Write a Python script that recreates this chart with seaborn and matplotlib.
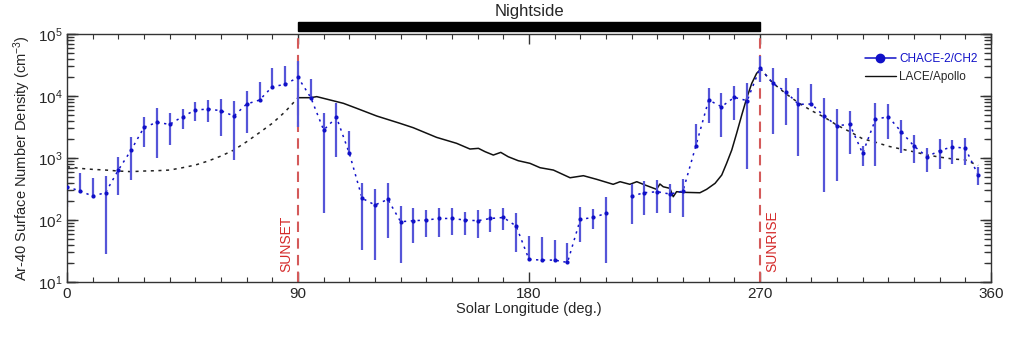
import numpy as np
import matplotlib
matplotlib.use("Agg")
import matplotlib.pyplot as plt
import seaborn as sns
from matplotlib.ticker import MultipleLocator, FixedLocator, NullFormatter, LogFormatterSciNotation
from matplotlib.patches import Rectangle

# ---------------- data ----------------
chace_lon = [0, 5, 10, 15, 20, 25, 30, 35, 40, 45, 50, 55, 60, 65, 70, 75, 80, 85, 90,
             95, 100, 105, 110, 115, 120, 125, 130, 135, 140, 145, 150, 155, 160, 165, 170,
             175, 180, 185, 190, 195, 200, 205, 210, 220, 225, 230, 235, 240, 245, 250,
             255, 260, 265, 270, 275, 280, 285, 290, 295, 300, 305, 310, 315, 320, 325,
             330, 335, 340, 345, 350, 355]
chace_val = [345, 294, 244, 276, 640, 1345, 3126, 3758, 3491, 4645, 5943, 6166, 5794, 4753,
             7430, 8610, 14130, 15420, 20000,
             9400, 2830, 4530, 1190, 224, 175, 215, 94, 97.5, 100, 106, 106, 100, 97.5, 106, 110,
             80, 23.2, 22.6, 22.6, 20.7, 102.6, 110, 128, 244, 276, 286, 262, 294, 1563, 8610,
             6730, 9506, 8414, 28300, 16000, 11750, 7345, 7430, 4753, 3327, 3491, 1189, 4207,
             4645, 2661, 1563, 1050, 1312, 1524, 1432, 532]
chace_hi = [710, 580, 482, 519, 1025, 2208, 4645, 6486, 5260, 6166, 7907, 8610, 9057, 8414,
            12050, 17020, 27990, 30480, 36730,
            18790, 5260, 7800, 2760, 391, 316, 391, 168, 154, 145, 154, 158, 136, 145, 150, 154,
            128, 55, 52.5, 47.5, 43, 160, 150, 232, 381, 430, 442, 381, 453, 3532, 13300,
            11040, 14490, 16000, 44160, 27990, 19280, 13300, 15420, 9162, 6095, 5794, 1563, 7621,
            7345, 4102, 2350, 1432, 2000, 1950, 2075, 724]
chace_lo = [160, 270, 238, 28, 253, 442, 1486, 1012, 1622, 2972, 4000, 3855, 2265, 929,
            2500, 8110, 13300, 15030, 3200,
            9180, 128, 1050, 1117, 33, 23, 52, 20, 42, 54, 54, 57, 57, 51, 63, 69,
            31, 22.6, 22, 22, 20, 43.6, 71.6, 20, 85, 120, 128, 128, 110, 1486, 3715,
            2153, 4102, 656, 17020, 2410, 3404, 1076, 7160, 280, 426, 1161, 743, 752,
            2023, 1189, 820, 603, 656, 791, 771, 367]

lace_lon = [90, 94.9, 97.3, 99.9, 105.1, 107.7, 112.9, 120.7, 129.7, 134.9, 144, 151.8, 157,
            160.3, 162.9, 166.1, 169, 171.9, 175.8, 180.4, 184.3, 189.5, 196, 201.2, 206.4,
            212.8, 215.5, 219.3, 222, 225.2, 229.7, 231, 232.3, 234.9, 236.2, 237.5, 240.1,
            246.6, 249.2, 252.5, 255.1, 257, 259, 260.9, 262.9, 264.8, 266.8, 268.7, 270]
lace_log = [3.973, 3.973, 3.99, 3.963, 3.909, 3.882, 3.801, 3.677, 3.56, 3.489, 3.333, 3.237,
            3.145, 3.156, 3.102, 3.048, 3.091, 3.021, 2.957, 2.914, 2.844, 2.806, 2.682, 2.715,
            2.656, 2.576, 2.618, 2.576, 2.618, 2.565, 2.495, 2.581, 2.537, 2.511, 2.376, 2.457,
            2.447, 2.44, 2.495, 2.592, 2.726, 2.915, 3.129, 3.398, 3.694, 3.963, 4.205, 4.366,
            4.42]

fit_day1_lon = [0, 5, 10, 15, 20, 25, 30, 35, 40, 45, 50, 55, 60, 65, 70, 75, 80, 85, 90]
fit_day1_val = [724, 681, 656, 640, 617, 603, 617, 625, 640, 698, 771, 895, 1076, 1345, 1832,
                2570, 3631, 5585, 9400]
fit_day2_lon = [270, 275, 280, 285, 290, 295, 300, 305, 310, 315, 320, 325, 330, 335, 340,
                345, 350, 355]
fit_day2_log = [4.45, 4.21, 4.04, 3.89, 3.765, 3.66, 3.53, 3.425, 3.31, 3.255, 3.19, 3.145,
                3.10, 3.05, 3.015, 2.985, 2.97, 2.88]

x_ticks = [0, 90, 180, 270, 360]
x_ticklabels = ["0", "90", "180", "270", "360"]
y_decades = [1, 2, 3, 4, 5]

# ---------------- style ----------------
sns.set_style("ticks")
plt.rcParams["font.family"] = ["Liberation Sans", "DejaVu Sans"]
plt.rcParams["mathtext.fontset"] = "custom"
plt.rcParams["mathtext.rm"] = "Liberation Sans"
plt.rcParams["mathtext.it"] = "Liberation Sans:italic"
plt.rcParams["mathtext.bf"] = "Liberation Sans:bold"

fig = plt.figure(figsize=(10.23, 3.39), dpi=100)
ax = fig.add_axes([0.0655, 0.168, 0.9032, 0.7317])
ax.set_yscale("log")
ax.set_xlim(0, 360)
ax.set_ylim(10, 1e5)

blue = "#1010c8"
ebar_blue = "#5555d8"

# black dotted fits (dayside)
sns.lineplot(x=fit_day1_lon, y=fit_day1_val, ax=ax, color="#222222", lw=1.1,
             linestyle=(0, (2, 3)), sort=False, legend=False)
sns.lineplot(x=fit_day2_lon, y=[10 ** v for v in fit_day2_log], ax=ax, color="#222222",
             lw=1.1, linestyle=(0, (2, 3)), sort=False, legend=False)

# LACE/Apollo
sns.lineplot(x=lace_lon, y=[10 ** v for v in lace_log], ax=ax, color="#111111", lw=1.1,
             sort=False, legend=False)

# CHACE-2 connecting dotted line, broken at data gaps
lon = np.array(chace_lon, dtype=float)
val = np.array(chace_val, dtype=float)
breaks = np.where(np.diff(lon) > 5)[0] + 1
for seg_l, seg_v in zip(np.split(lon, breaks), np.split(val, breaks)):
    ax.plot(seg_l, seg_v, color=blue, lw=1.1, linestyle=(0, (1.5, 3)))

# CHACE-2 error bars and points
yerr = [val - np.array(chace_lo), np.array(chace_hi) - val]
ax.errorbar(lon, val, yerr=yerr, fmt="none", ecolor=ebar_blue, elinewidth=1.6, capsize=0)
sns.scatterplot(x=chace_lon, y=chace_val, ax=ax, color=blue, s=9, edgecolor=blue,
                linewidth=0, zorder=5, legend=False)

# sunset / sunrise lines
for xv in (90, 270):
    ax.axvline(xv, color="#d45a5a", lw=1.5, linestyle=(0, (5, 3)), zorder=1)
ax.text(85.3, 14.5, "SUNSET", rotation=90, color="#d42a2a", fontsize=10,
        ha="center", va="bottom")
ax.text(275.0, 14.5, "SUNRISE", rotation=90, color="#d42a2a", fontsize=10,
        ha="center", va="bottom")

# nightside bar
trans = ax.get_xaxis_transform()
ax.add_patch(Rectangle((90, 1.012), 180, 0.036, transform=trans, color="black",
                       clip_on=False))
ax.text(180, 1.09, "Nightside", transform=trans, ha="center", va="center", fontsize=12)

# legend
h1, = ax.plot([], [], color=blue, lw=1.1, marker="o", markersize=6)
h2, = ax.plot([], [], color="#111111", lw=1.0)
leg = ax.legend([h1, h2], ["CHACE-2/CH2", "LACE/Apollo"], loc="upper right",
                bbox_to_anchor=(0.997, 0.965), frameon=False, fontsize=8.5,
                handlelength=2.6, handletextpad=0.3, labelspacing=0.5)
leg.get_texts()[0].set_color(blue)

# axes
ax.xaxis.set_major_locator(FixedLocator(x_ticks))
ax.set_xticklabels(x_ticklabels)
ax.xaxis.set_minor_locator(MultipleLocator(10))
y_major = [10.0 ** d for d in y_decades]
y_minor = [m * 10.0 ** d for d in y_decades[:-1] for m in range(2, 10)]
ax.yaxis.set_major_locator(FixedLocator(y_major))
ax.yaxis.set_major_formatter(LogFormatterSciNotation())
ax.yaxis.set_minor_locator(FixedLocator(y_minor))
ax.yaxis.set_minor_formatter(NullFormatter())
ax.tick_params(axis="x", which="both", direction="in", top=True, bottom=True,
               labelsize=11, color="#333333")
ax.tick_params(axis="y", which="both", direction="in", left=True, right=True,
               labelsize=11, color="#333333")
ax.tick_params(axis="x", which="major", length=7, width=1)
ax.tick_params(axis="x", which="minor", length=3.5, width=0.8)
ax.tick_params(axis="y", which="major", length=8, width=1)
ax.tick_params(axis="y", which="minor", length=5, width=0.9)
for sp in ax.spines.values():
    sp.set_color("#333333")
    sp.set_linewidth(1.0)

# y tick marks drawn as short axis-anchored lines on both sides, at the tick values
ax_w_px = ax.get_position().width * fig.get_figwidth() * fig.dpi
maj_frac = 8.0 / ax_w_px
min_frac = 5.0 / ax_w_px
for yv in y_major:
    ax.axhline(yv, xmin=0, xmax=maj_frac, color="#333333", lw=1.0, clip_on=False, zorder=6)
    ax.axhline(yv, xmin=1 - maj_frac, xmax=1, color="#333333", lw=1.0, clip_on=False, zorder=6)
for yv in y_minor:
    ax.axhline(yv, xmin=0, xmax=min_frac, color="#333333", lw=0.9, clip_on=False, zorder=6)
    ax.axhline(yv, xmin=1 - min_frac, xmax=1, color="#333333", lw=0.9, clip_on=False, zorder=6)

ax.set_xlabel("Solar Longitude (deg.)", fontsize=10.5, labelpad=1)
ax.set_ylabel("Ar-40 Surface Number Density (cm$^{-3}$)", fontsize=10.5, labelpad=3)

fig.savefig("out.png", dpi=100)
